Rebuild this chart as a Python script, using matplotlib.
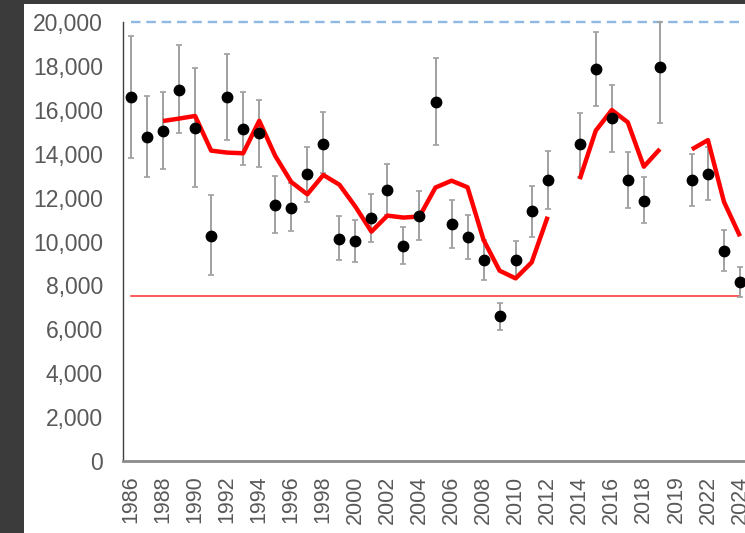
import matplotlib
matplotlib.use("Agg")
import matplotlib.pyplot as plt
import matplotlib.ticker as mticker
from matplotlib.patches import Rectangle
import numpy as np

plt.rcParams['font.family'] = ['Liberation Sans', 'DejaVu Sans']

# one slot per year 1986..2024; None = no data that year
years = list(range(1986, 2025))
tick_labels = ['1986', '1988', '1990', '1992', '1994', '1996', '1998', '2000',
               '2002', '2004', '2006', '2008', '2010', '2012', '2014', '2016',
               '2018', '2019', '2022', '2024']

counts = [16570, 14750, 15030, 16920, 15150, 10260, 16570, 15120, 14930, 11680,
          11540, 13060, 14440, 10130, 10020, 11060, 12350, 9790, 11180, 16360,
          10780, 10200, 9140, 6620, 9160, 11370, 12800, None, 14450, 17860,
          15610, 12790, 11860, 17930, None, 12790, 13090, 9580, 8150]
upper = [19380, 16610, 16810, 18940, 17890, 12100, 18540, 16800, 16460, 13000,
         12650, 14300, 15890, 11140, 10980, 12150, 13520, 10650, 12280, 18350,
         11880, 11220, 10070, 7210, 10020, 12510, 14140, None, 15850, 19530,
         17140, 14060, 12920, 20000, None, 13990, 14320, 10520, 8850]
lower = [13790, 12940, 13300, 14940, 12470, 8460, 14610, 13490, 13390, 10370,
         10460, 11810, 13100, 9160, 9080, 9990, 11200, 8960, 10070, 14400,
         9690, 9220, 8250, 5990, 8400, 10220, 11470, None, 12950, 16170,
         14080, 11540, 10840, 15400, None, 11620, 11890, 8660, 7490]
moving_avg = [None, None, 15490, 15600, 15720, 14140, 14050, 14020, 15500, 13900,
              12710, 12150, 13030, 12590, 11590, 10450, 11180, 11090, 11140, 12460,
              12770, 12470, 10070, 8670, 8320, 9050, 11130, None, 12840, 15050,
              15990, 15430, 13410, 14210, None, 14200, 14620, 11810, 10240]
target = 20000
threshold = 7500

x = np.arange(len(years))
y = np.array([np.nan if v is None else v for v in counts], dtype=float)
up = np.array([np.nan if v is None else v for v in upper], dtype=float)
lo = np.array([np.nan if v is None else v for v in lower], dtype=float)
ma = np.array([np.nan if v is None else v for v in moving_avg], dtype=float)

fig = plt.figure(figsize=(7.45, 5.33), dpi=100, facecolor='#3b3b3b')
fig.patches.append(Rectangle((24 / 745, 0), 1, (533 - 4) / 533,
                             transform=fig.transFigure, facecolor='white',
                             edgecolor='none', zorder=-10))

ax = fig.add_axes([123 / 745, 72 / 533, 625 / 745, 439 / 533])
ax.set_facecolor('white')

ax.plot(x, [target] * len(x), color='#8fb8e3', lw=1.7, ls=(0, (4, 2.5)),
        zorder=1, clip_on=False)
ax.plot(x, [threshold] * len(x), color='#ff3b3b', lw=1.2, zorder=1)

ok = ~np.isnan(y)
ax.errorbar(x[ok], y[ok], yerr=[y[ok] - lo[ok], up[ok] - y[ok]], fmt='none',
            ecolor='#a0a0a0', elinewidth=1.4, capsize=2, capthick=1.2,
            zorder=2, clip_on=False)
ax.plot(x, ma, color='#ff0000', lw=3.2, solid_capstyle='butt', zorder=3)
ax.plot(x[ok], y[ok], 'o', color='black', ms=7.5, zorder=4, clip_on=False)

ax.set_ylim(0, 20000)
ax.set_xlim(-0.5, len(x) - 0.5)
ax.yaxis.set_major_locator(mticker.MultipleLocator(2000))
ax.yaxis.set_major_formatter(mticker.FuncFormatter(lambda v, p: f'{int(v):,}'))
ax.set_xticks(x[::2])
ax.set_xticklabels(tick_labels, rotation=90)

ax.tick_params(axis='y', length=0, pad=14.5, labelsize=16.5, labelcolor='#595959')
ax.tick_params(axis='x', length=0, pad=10.5, labelsize=15.5, labelcolor='#595959')

for side in ['top', 'right']:
    ax.spines[side].set_visible(False)
ax.spines['left'].set_color('#404040')
ax.spines['left'].set_linewidth(1.0)
ax.spines['bottom'].set_color('#8c8c8c')
ax.spines['bottom'].set_linewidth(2.0)

fig.savefig('out.png', dpi=100, facecolor=fig.get_facecolor())
